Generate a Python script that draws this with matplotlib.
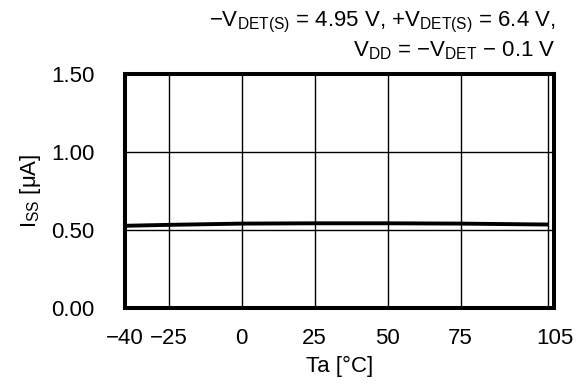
import matplotlib
matplotlib.use("Agg")
import matplotlib.pyplot as plt
import matplotlib.transforms as mtransforms

plt.rcParams['font.family'] = ['Liberation Sans', 'DejaVu Sans']
plt.rcParams['mathtext.fontset'] = 'custom'
plt.rcParams['mathtext.rm'] = 'Liberation Sans'
plt.rcParams['mathtext.it'] = 'Liberation Sans'
plt.rcParams['axes.unicode_minus'] = True

temps = [-40, -25, 0, 25, 50, 75, 105]
iss = [0.527, 0.533, 0.541, 0.543, 0.543, 0.541, 0.535]
xticks = [-40, -25, 0, 25, 50, 75, 105]
xticklabels = ['\u221240', '\u221225', '0', '25', '50', '75', '105']
yticks = [0.0, 0.5, 1.0, 1.5]
yticklabels = ['0.00', '0.50', '1.00', '1.50']

fig = plt.figure(figsize=(5.85, 3.89), dpi=100)
ax = fig.add_axes([0.2137, 0.2082, 0.947 - 0.2137, 0.8098 - 0.2082])

ax.plot(temps, iss, color='black', lw=2.8, solid_capstyle='butt', zorder=3)
ax.set_xlim(-40, 107)
ax.set_ylim(0, 1.5)
ax.set_xticks(xticks)
ax.set_xticklabels(xticklabels)
ax.set_yticks(yticks)
ax.set_yticklabels(yticklabels)
ax.grid(True, color='black', lw=1.0)
ax.tick_params(length=0, labelsize=16)
ax.tick_params(axis='x', pad=14.5)
ax.tick_params(axis='y', pad=22)
for s in ax.spines.values():
    s.set_linewidth(2.9)
    s.set_zorder(4)

# last x label sits under the right frame edge, as in the reference
lbl = ax.get_xticklabels()[-1]
lbl.set_transform(lbl.get_transform() + mtransforms.ScaledTranslation(7 / 100, 0, fig.dpi_scale_trans))

ax.set_xlabel('Ta [\u00b0C]', fontsize=16, labelpad=5)
ax.set_ylabel('I$_{\\mathrm{SS}}$ [\u03bcA]', fontsize=16, labelpad=6)

fig.text(0.949, 0.933, '\u2212V$_{\\mathrm{DET(S)}}$ = 4.95 V, +V$_{\\mathrm{DET(S)}}$ = 6.4 V,',
         ha='right', va='baseline', fontsize=16)
fig.text(0.949, 0.855, 'V$_{\\mathrm{DD}}$ = \u2212V$_{\\mathrm{DET}}$ \u2212 0.1 V',
         ha='right', va='baseline', fontsize=16)

fig.savefig('out.png', dpi=100)
